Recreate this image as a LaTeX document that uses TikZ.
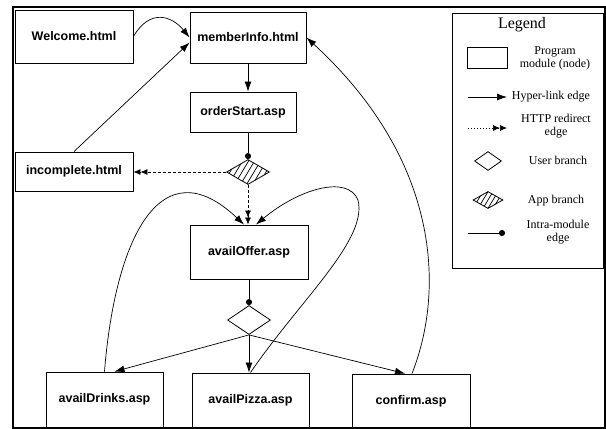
\documentclass[tikz,border=0pt]{standalone}
\usepackage{fontspec}
\setmainfont{Liberation Serif}
\newfontfamily\nodefont{Liberation Sans}
\usetikzlibrary{arrows.meta,shapes.geometric,calc}
\begin{document}
\begin{tikzpicture}[x=1pt,y=-1pt,
  mod/.style={draw, line width=0.9pt, inner sep=0pt, font=\nodefont\bfseries\fontsize{12.5}{14}\selectfont},
  hl/.style={line width=0.7pt, -{Latex[length=10pt,width=7pt]}},
  rd/.style={line width=0.7pt, dash pattern=on 3pt off 2pt, -{Latex[length=7pt,width=6pt]Latex[length=7pt,width=6pt]}},
  intra/.style={line width=0.7pt, -{Circle[length=6pt]}},
  ubranch/.style={diamond, draw, line width=0.8pt, inner sep=0pt},
  hatch/.style={path picture={\foreach \k in {-5,...,5} \draw[line width=0.7pt] ([xshift=\k*#1]path picture bounding box.center) ++(-12pt,-20pt) -- ++(24pt,40pt);}},
  lg/.style={font=\fontsize{12}{13}\selectfont, align=center, inner sep=0pt}]
\useasboundingbox (0,0) rectangle (606,429);
\draw[line width=1.3pt] (13,7) rectangle (605,428);

% modules
\node[mod, minimum width=118pt, minimum height=53pt] (welcome) at (74,36.5) {Welcome.html};
\node[mod, minimum width=116pt, minimum height=51pt] (member) at (248,37.5) {memberInfo.html};
\node[mod, minimum width=106pt, minimum height=40pt] (order) at (243,112) {orderStart.asp};
\node[mod, minimum width=118pt, minimum height=39pt] (incomplete) at (74,171.5) {incomplete.html};
\node[mod, minimum width=118pt, minimum height=54pt] (offer) at (249,252) {availOffer.asp};
\node[mod, minimum width=117pt, minimum height=55pt] (drinks) at (104.5,399.5) {availDrinks.asp};
\node[mod, minimum width=117pt, minimum height=54pt] (pizza) at (250.5,400) {availPizza.asp};
\node[mod, minimum width=118pt, minimum height=54pt] (confirm) at (411,401) {confirm.asp};

% branches
\node[ubranch, minimum width=43pt, minimum height=25pt, hatch=6pt] (app) at (248,172) {};
\node[ubranch, minimum width=43pt, minimum height=29pt] (user) at (249,320) {};

% edges
\draw[hl] (welcome.east) .. controls (150,8) and (172,16) .. (member.west);
\draw[hl] (incomplete.north) -- ($(member.west)+(0,5)$);
\draw[hl] (member.south) -- (member.south |- order.north);
\draw[intra] (app.north |- order.south) -- (app.north);
\draw[rd] (app.west) -- (app.west -| incomplete.east);
\draw[rd] (app.south) -- (app.south |- offer.north);
\draw[intra] (user.north |- offer.south) -- (user.north);
\draw[hl] (user.south) -- ($(drinks.north)+(10,0)$);
\draw[hl] (user.south) -- (user.south |- pizza.north);
\draw[hl] (user.south) -- ($(confirm.north)+(-6,0)$);
\draw[hl] ($(confirm.north)+(1,0)$) .. controls (445,290) and (440,160) .. (member.east);
\draw[hl] (drinks.north) .. controls (115,240) and (160,145) .. ($(offer.north)+(-5,0)$);
\draw[hl] (pizza.north) .. controls (300,300) and (368,240) .. (358,200) .. controls (348,175) and (300,188) .. ($(offer.north)+(7,0)$);

% legend
\node[draw, line width=0.9pt, minimum width=151pt, minimum height=255pt, inner sep=0pt] (legend) at (527.5,140.5) {};
\node[font=\fontsize{16}{18}\selectfont, inner sep=0pt] (lgtitle) at (522,25) {Legend};
\node[draw, line width=0.8pt, minimum width=40pt, minimum height=21pt, inner sep=0pt] (lgmod) at (487,57.5) {};
\node[lg] (t1) at (555,58) {Program\\module (node)};
\coordinate (h1) at (468,97); \coordinate (h2) at (507,97);
\draw[hl] (h1) -- (h2);
\node[lg] (t2) at (551,97) {Hyper-link edge};
\coordinate (r1) at (468,128); \coordinate (r2) at (507,128);
\draw[line width=0.7pt, dash pattern=on 1pt off 2pt, -{Latex[length=7pt,width=6pt]Latex[length=7pt,width=6pt]}] (r1) -- (r2);
\node[lg] (t3) at (556,126.5) {HTTP redirect\\edge};
\node[ubranch, minimum width=27pt, minimum height=19pt] (lguser) at (488,161) {};
\node[lg] (t4) at (558,160) {User branch};
\node[ubranch, minimum width=30pt, minimum height=17pt, hatch=5pt] (lgapp) at (488,200) {};
\node[lg] (t5) at (556,201) {App branch};
\coordinate (i1) at (468,233); \coordinate (i2) at (505,233);
\draw[intra] (i1) -- (i2);
\node[lg] (t6) at (558,232) {Intra-module\\edge};
\end{tikzpicture}
\end{document}
